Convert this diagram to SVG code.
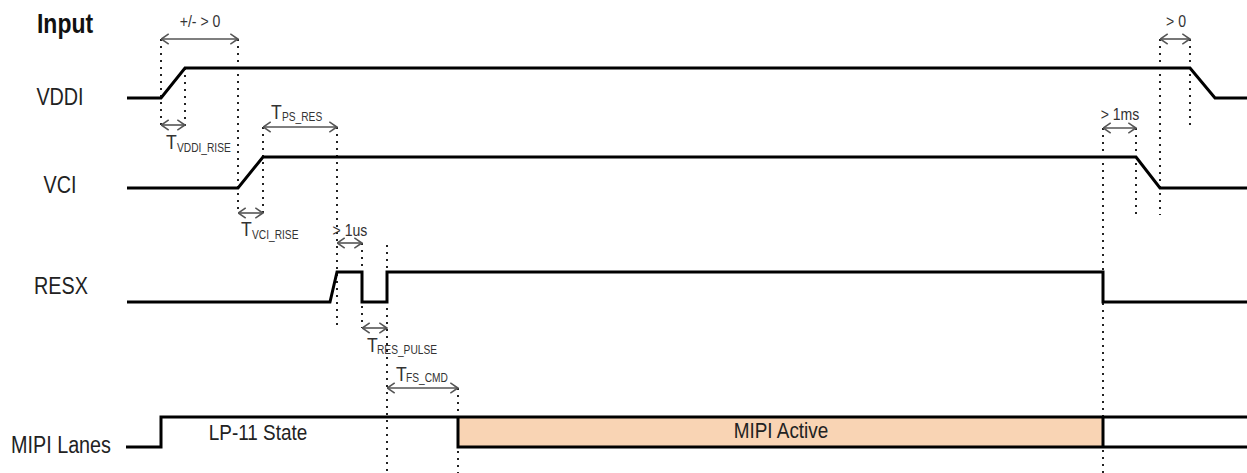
<svg xmlns="http://www.w3.org/2000/svg" width="1247" height="473" viewBox="0 0 1247 473">
<defs>
<marker id="ah" viewBox="0 0 9 12" refX="8.5" refY="6" markerWidth="9" markerHeight="12" markerUnits="userSpaceOnUse" orient="auto-start-reverse">
<path d="M0.8,0.8 L8.3,6 L0.8,11.2" fill="none" stroke="#555" stroke-width="1.6"/>
</marker>
</defs>
<style>
.sig{fill:none;stroke:#000;stroke-width:3;stroke-linejoin:miter}
.dot{fill:none;stroke:#222;stroke-width:2;stroke-dasharray:2 5}
.arr{fill:none;stroke:#555;stroke-width:1.6;marker-start:url(#ah);marker-end:url(#ah)}
.lbl{font-family:"Liberation Sans",Arial,sans-serif;font-size:23px;fill:#222;text-anchor:middle}
.t{font-family:"Liberation Sans",Arial,sans-serif;font-size:16px;fill:#333}
.tb{font-family:"Liberation Sans",Arial,sans-serif;font-size:20px;fill:#333}
.ts{font-family:"Liberation Sans",Arial,sans-serif;font-size:12px;fill:#333}
</style>
<rect width="1247" height="473" fill="#fff"/>
<g id="labels">
<text transform="translate(37,33) scale(0.85,1)" font-family="Liberation Sans, Arial, sans-serif" font-size="27" font-weight="bold" fill="#111">Input</text>
<text class="lbl" transform="translate(60,105) scale(0.86,1)">VDDI</text>
<text class="lbl" transform="translate(60,193) scale(0.86,1)">VCI</text>
<text class="lbl" transform="translate(61,294) scale(0.86,1)">RESX</text>
<text class="lbl" transform="translate(61,453) scale(0.86,1)">MIPI Lanes</text>
</g>
<g id="connectors">
<path class="dot" d="M161,39V128 M185,68V128 M238,39V213 M263,127V213 M337,127V328 M362,243V328 M387,245V473 M458,388V473 M1103,128V473 M1136,128V215 M1160,39V215 M1190,39V128"/>
<path class="arr" d="M161,39H238"/>
<path class="arr" d="M161,125H185"/>
<path class="arr" d="M263,127H337"/>
<path class="arr" d="M238,213H263"/>
<path class="arr" d="M337,243H362"/>
<path class="arr" d="M362,328H387"/>
<path class="arr" d="M387,388H458"/>
<path class="arr" d="M1103,128H1136"/>
<path class="arr" d="M1160,39H1190"/>
</g>
<g id="timing-labels">
<text class="t" transform="translate(200,27) scale(0.88,1)" text-anchor="middle">+/- &gt; 0</text>
<text class="t" transform="translate(1176,27) scale(0.88,1)" text-anchor="middle">&gt; 0</text>
<text class="t" transform="translate(1120,120) scale(0.88,1)" text-anchor="middle">&gt; 1ms</text>
<text class="t" transform="translate(350,236) scale(0.88,1)" text-anchor="middle">&gt; 1us</text>
<text class="tb" transform="translate(166,149) scale(0.88,1)">T</text><text class="ts" transform="translate(177,152) scale(0.85,1)">VDDI_RISE</text>
<text class="tb" transform="translate(271,119) scale(0.88,1)">T</text><text class="ts" transform="translate(282,121) scale(0.85,1)">PS_RES</text>
<text class="tb" transform="translate(241,236) scale(0.88,1)">T</text><text class="ts" transform="translate(252,239) scale(0.85,1)">VCI_RISE</text>
<text class="tb" transform="translate(367,352) scale(0.88,1)">T</text><text class="ts" transform="translate(377,354) scale(0.85,1)">RES_PULSE</text>
<text class="tb" transform="translate(396,381) scale(0.88,1)">T</text><text class="ts" transform="translate(406,382) scale(0.85,1)">FS_CMD</text>
</g>
<g id="vddi"><path class="sig" d="M127,98H161L185,68H1190L1215,98H1247"/></g>
<g id="vci"><path class="sig" d="M127,188H238L263,157H1136L1160,188H1247"/></g>
<g id="resx"><path class="sig" d="M127,302H330L337,272H362V302H387V272H1103V302H1247"/></g>
<g id="mipi">
<rect x="458" y="417" width="645" height="30" fill="#F9D4B4"/>
<path class="sig" d="M126,447H161V417H1247 M458,417V447H1247 M1103,417V447"/>
<text transform="translate(258,440) scale(0.86,1)" font-family="Liberation Sans, Arial, sans-serif" font-size="22" fill="#222" text-anchor="middle">LP-11 State</text>
<text transform="translate(781,438) scale(0.86,1)" font-family="Liberation Sans, Arial, sans-serif" font-size="22" fill="#222" text-anchor="middle">MIPI Active</text>
</g>
</svg>
